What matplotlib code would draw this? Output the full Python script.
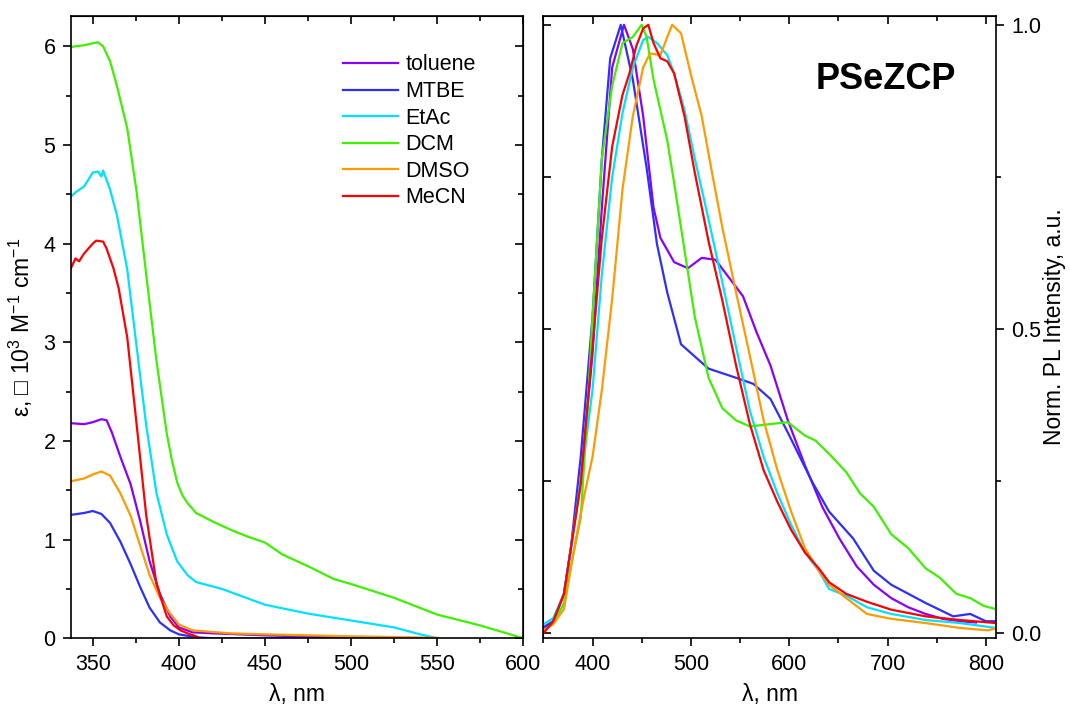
import matplotlib
matplotlib.use("Agg")
import matplotlib.pyplot as plt
from matplotlib.ticker import MultipleLocator

plt.rcParams['font.family'] = ['Liberation Sans', 'DejaVu Sans']
plt.rcParams['mathtext.fontset'] = 'custom'
plt.rcParams['mathtext.rm'] = 'Liberation Sans'
plt.rcParams['mathtext.default'] = 'regular'

solvents = ['toluene', 'MTBE', 'EtAc', 'DCM', 'DMSO', 'MeCN']
colors = ['#8a00ff', '#2e2eff', '#00e1ff', '#3ff000', '#ff9a00', '#ff0000']

# absorption, eps in 10^3 M^-1 cm^-1
abs_tol_x = [337, 345, 350, 355, 358, 361, 366, 372, 377.5, 383, 389, 395, 400, 408, 420, 450, 480, 520]
abs_tol_y = [2.18, 2.17, 2.19, 2.22, 2.21, 2.09, 1.84, 1.56, 1.19, 0.78, 0.45, 0.22, 0.11, 0.06, 0.05, 0.03, 0.015, 0.005]

abs_mtbe_x = [337, 345, 350, 355, 360, 366, 372, 377.5, 383, 389, 395, 400, 410, 420, 450, 500, 550]
abs_mtbe_y = [1.25, 1.27, 1.29, 1.26, 1.17, 0.98, 0.75, 0.52, 0.31, 0.16, 0.08, 0.04, 0.01, 0.0, 0.0, 0.0, 0.0]

abs_etac_x = [337, 340, 345, 350, 353, 355, 356, 360, 364, 370, 375.5, 381, 387, 393, 399, 405, 410, 425, 450, 475, 500, 525, 540, 550]
abs_etac_y = [4.47, 4.52, 4.58, 4.72, 4.73, 4.68, 4.74, 4.55, 4.29, 3.74, 2.95, 2.16, 1.47, 1.05, 0.78, 0.64, 0.57, 0.5, 0.34, 0.25, 0.18, 0.11, 0.04, 0.0]

abs_dcm_x = [337, 340, 345, 350, 353, 356, 360, 364, 370, 375.5, 381, 387, 393, 396, 399, 402, 405, 410, 420, 430, 440, 450, 460, 475, 490, 500, 525, 550, 575, 600]
abs_dcm_y = [5.99, 6.0, 6.01, 6.03, 6.04, 6.0, 5.85, 5.6, 5.17, 4.52, 3.69, 2.81, 2.07, 1.8, 1.58, 1.45, 1.37, 1.27, 1.18, 1.1, 1.03, 0.97, 0.85, 0.73, 0.6, 0.55, 0.41, 0.24, 0.13, 0.0]

abs_dmso_x = [337, 345, 350, 355, 360, 366, 372, 377.5, 383, 389, 395, 400, 408, 430, 450, 500, 550]
abs_dmso_y = [1.59, 1.62, 1.66, 1.69, 1.65, 1.47, 1.24, 0.94, 0.64, 0.41, 0.25, 0.14, 0.08, 0.05, 0.04, 0.02, 0.005]

abs_mecn_x = [337, 340, 342, 345, 350, 352, 356, 358, 362, 365, 370, 375.5, 381, 387, 393, 397, 401, 405, 410, 412]
abs_mecn_y = [3.74, 3.85, 3.82, 3.9, 4.0, 4.03, 4.02, 3.95, 3.75, 3.55, 3.05, 2.16, 1.25, 0.55, 0.22, 0.13, 0.08, 0.05, 0.02, 0.0]

# normalised PL
pl_tol_x = [350, 360, 371, 378, 388, 400, 409.5, 420, 432, 441, 451.5, 462, 469, 483, 497, 511, 525, 539, 553, 567, 581, 598.6, 616, 633.6, 651, 668.7, 686, 703.7, 721, 738.7, 756, 773.7, 790]
pl_tol_y = [0.005, 0.02, 0.065, 0.14, 0.25, 0.46, 0.7, 0.93, 1.0, 0.96, 0.85, 0.7, 0.65, 0.61, 0.6, 0.617, 0.614, 0.584, 0.554, 0.494, 0.44, 0.35, 0.276, 0.208, 0.156, 0.11, 0.08, 0.058, 0.043, 0.032, 0.024, 0.02, 0.018]

pl_mtbe_x = [350, 360, 371, 378, 388, 400, 409.5, 418, 428.7, 441, 455, 465.5, 476, 490, 518, 546, 563.6, 581, 598.6, 623, 640.6, 665, 686, 703.7, 738.7, 766.7, 784, 800, 810]
pl_mtbe_y = [0.01, 0.02, 0.065, 0.14, 0.29, 0.52, 0.78, 0.945, 1.0, 0.91, 0.765, 0.64, 0.56, 0.475, 0.435, 0.42, 0.41, 0.385, 0.33, 0.25, 0.2, 0.156, 0.103, 0.08, 0.05, 0.028, 0.032, 0.02, 0.02]

pl_etac_x = [350, 360, 371, 378, 388, 400, 409.5, 420, 430.5, 441, 451.5, 456.7, 465.5, 476, 483, 493.5, 504, 518, 532, 546, 560, 574, 588, 602, 616, 630, 640.6, 658, 679, 703.7, 738.7, 773.7, 810]
pl_etac_y = [0.015, 0.025, 0.065, 0.14, 0.25, 0.4, 0.59, 0.75, 0.855, 0.93, 0.975, 0.98, 0.97, 0.95, 0.92, 0.86, 0.78, 0.68, 0.577, 0.47, 0.366, 0.29, 0.23, 0.178, 0.133, 0.103, 0.073, 0.062, 0.043, 0.032, 0.022, 0.017, 0.009]

pl_dcm_x = [350, 360, 371, 378, 388, 395, 400, 409.5, 420, 430.5, 441, 450, 455, 462, 469, 476, 483, 493.5, 504, 518, 532, 546, 560, 581, 598.6, 616, 626.6, 640.6, 658, 672, 686, 703.7, 721, 738.7, 752.7, 770, 784, 798, 810]
pl_dcm_y = [0.005, 0.015, 0.05, 0.11, 0.19, 0.37, 0.52, 0.78, 0.9, 0.97, 0.98, 1.0, 0.98, 0.91, 0.86, 0.81, 0.74, 0.63, 0.52, 0.42, 0.37, 0.35, 0.34, 0.344, 0.347, 0.325, 0.317, 0.295, 0.265, 0.23, 0.208, 0.163, 0.14, 0.107, 0.092, 0.065, 0.058, 0.045, 0.04]

pl_dmso_x = [350, 360, 371, 381.4, 392, 400, 409.5, 420, 430.5, 441, 451.5, 458.5, 469, 476, 481, 490, 500.5, 511, 521.5, 532, 546, 560, 574, 588, 602, 616, 630, 640.6, 658, 679, 703.7, 738.7, 773.7, 801.8, 810]
pl_dmso_y = [0.005, 0.015, 0.04, 0.14, 0.23, 0.29, 0.4, 0.55, 0.73, 0.85, 0.93, 0.953, 0.95, 0.98, 1.0, 0.986, 0.915, 0.85, 0.757, 0.667, 0.56, 0.456, 0.35, 0.268, 0.2, 0.14, 0.103, 0.08, 0.058, 0.032, 0.024, 0.017, 0.009, 0.005, 0.008]

pl_mecn_x = [350, 360, 371, 378, 388, 400, 409.5, 420, 430.5, 437.5, 444.5, 451.5, 456.7, 462, 469, 476, 483, 493.5, 504, 518, 532, 546, 560, 574, 588, 602, 616, 630, 640.6, 658, 679, 703.7, 738.7, 773.7, 810]
pl_mecn_y = [0.0, 0.02, 0.065, 0.14, 0.245, 0.47, 0.65, 0.8, 0.885, 0.92, 0.965, 0.994, 1.0, 0.97, 0.945, 0.94, 0.92, 0.85, 0.757, 0.644, 0.547, 0.44, 0.344, 0.268, 0.216, 0.17, 0.133, 0.107, 0.084, 0.065, 0.052, 0.039, 0.028, 0.022, 0.017]

abs_x = [abs_tol_x, abs_mtbe_x, abs_etac_x, abs_dcm_x, abs_dmso_x, abs_mecn_x]
abs_y = [abs_tol_y, abs_mtbe_y, abs_etac_y, abs_dcm_y, abs_dmso_y, abs_mecn_y]
pl_x = [pl_tol_x, pl_mtbe_x, pl_etac_x, pl_dcm_x, pl_dmso_x, pl_mecn_x]
pl_y = [pl_tol_y, pl_mtbe_y, pl_etac_y, pl_dcm_y, pl_dmso_y, pl_mecn_y]

tick_fs = 15.5
label_fs = 16.5

fig = plt.figure(figsize=(10.7, 7.15), dpi=100)
ax1 = fig.add_axes([0.0661, 0.1073, 0.4230, 0.8708])
ax2 = fig.add_axes([0.5078, 0.1073, 0.4228, 0.8708])

for ax in (ax1, ax2):
    for s in ax.spines.values():
        s.set_linewidth(1.2)

# ---- absorption panel
for xs, ys, c, name in zip(abs_x, abs_y, colors, solvents):
    ax1.plot(xs, ys, color=c, lw=1.6, label=name)

ax1.set_xlim(337.2, 600)
ax1.set_ylim(0, 6.31)
ax1.xaxis.set_major_locator(MultipleLocator(50))
ax1.xaxis.set_minor_locator(MultipleLocator(25))
ax1.yaxis.set_major_locator(MultipleLocator(1))
ax1.yaxis.set_minor_locator(MultipleLocator(0.5))
ax1.tick_params(which='major', direction='out', length=6, width=1.2, labelsize=tick_fs, pad=5)
ax1.tick_params(which='minor', direction='out', length=3.5, width=1.2)
ax1.set_xlabel('λ, nm', fontsize=label_fs, labelpad=6)
ax1.set_ylabel(r'ε, □ 10$^3$ M$^{-1}$ cm$^{-1}$', fontsize=label_fs, labelpad=6)

top1 = ax1.secondary_xaxis('top')
top1.xaxis.set_major_locator(MultipleLocator(50))
top1.xaxis.set_minor_locator(MultipleLocator(25))
top1.tick_params(which='both', direction='in', labeltop=False, width=1.2)
top1.tick_params(which='major', length=6)
top1.tick_params(which='minor', length=3.5)
right1 = ax1.secondary_yaxis('right')
right1.yaxis.set_major_locator(MultipleLocator(1))
right1.yaxis.set_minor_locator(MultipleLocator(0.5))
right1.tick_params(which='both', direction='in', labelright=False, width=1.2)
right1.tick_params(which='major', length=6)
right1.tick_params(which='minor', length=3.5)

ax1.legend(loc='upper left', bbox_to_anchor=(0.578, 0.955), frameon=False,
           fontsize=tick_fs, handlelength=2.55, handletextpad=0.35,
           labelspacing=0.26, borderpad=0)

# ---- PL panel
for xs, ys, c in zip(pl_x, pl_y, colors):
    ax2.plot(xs, ys, color=c, lw=1.6)

ax2.set_xlim(350, 810)
ax2.set_ylim(-0.008, 1.015)
ax2.xaxis.set_major_locator(MultipleLocator(100))
ax2.xaxis.set_minor_locator(MultipleLocator(50))
ax2.yaxis.tick_right()
ax2.yaxis.set_label_position('right')
ax2.yaxis.set_major_locator(MultipleLocator(0.5))
ax2.yaxis.set_minor_locator(MultipleLocator(0.25))
ax2.yaxis.set_major_formatter(matplotlib.ticker.FormatStrFormatter('%.1f'))
ax2.tick_params(which='major', direction='out', length=6, width=1.2, labelsize=tick_fs, pad=5)
ax2.tick_params(which='minor', direction='out', length=3.5, width=1.2)
ax2.set_xlabel('λ, nm', fontsize=label_fs, labelpad=6)
ax2.set_ylabel('Norm. PL Intensity, a.u.', fontsize=label_fs, labelpad=1)

top2 = ax2.secondary_xaxis('top')
top2.xaxis.set_major_locator(MultipleLocator(100))
top2.xaxis.set_minor_locator(MultipleLocator(50))
top2.tick_params(which='both', direction='in', labeltop=False, width=1.2)
top2.tick_params(which='major', length=6)
top2.tick_params(which='minor', length=3.5)
left2 = ax2.secondary_yaxis('left')
left2.yaxis.set_major_locator(MultipleLocator(0.25))
left2.tick_params(which='both', direction='in', labelleft=False, width=1.2, length=6)

ax2.text(0.7575, 0.897, 'PSeZCP', transform=ax2.transAxes, ha='center', va='center',
         fontsize=26, fontweight='bold')

fig.savefig('out.png', dpi=100)
